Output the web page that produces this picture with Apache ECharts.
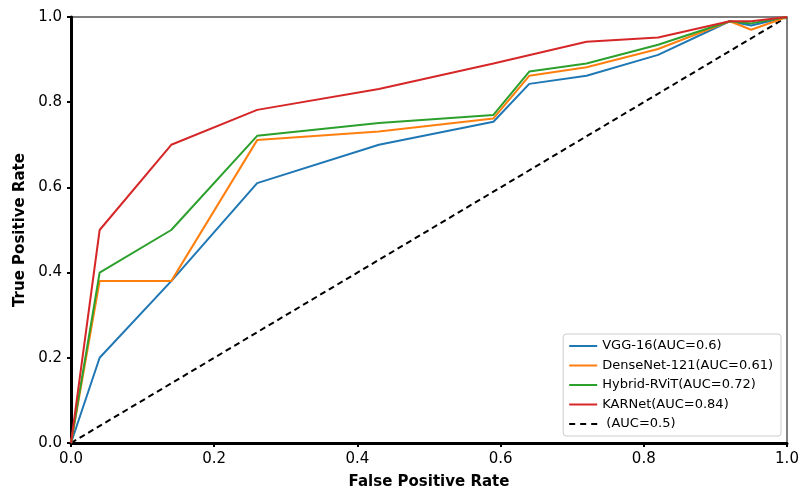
<!DOCTYPE html>
<html>
<head>
<meta charset="utf-8">
<script src="https://cdn.jsdelivr.net/npm/echarts@6/dist/echarts.min.js"></script>
<style>html,body{margin:0;padding:0;background:#fff;}#c{width:801px;height:490px;}</style>
</head>
<body>
<div id="c"></div>
<script>
const vggFpr = [0, 0.04, 0.14, 0.26, 0.43, 0.59, 0.64, 0.72, 0.82, 0.92, 0.95, 1];
const vggTpr = [0, 0.2, 0.38, 0.61, 0.70, 0.754, 0.843, 0.862, 0.911, 0.99, 0.98, 1];
const denseFpr = [0, 0.04, 0.14, 0.26, 0.43, 0.59, 0.64, 0.72, 0.82, 0.92, 0.95, 1];
const denseTpr = [0, 0.38, 0.38, 0.711, 0.731, 0.762, 0.862, 0.882, 0.925, 0.99, 0.97, 1];
const hybridFpr = [0, 0.04, 0.14, 0.26, 0.43, 0.59, 0.64, 0.72, 0.82, 0.92, 0.95, 1];
const hybridTpr = [0, 0.40, 0.50, 0.721, 0.751, 0.77, 0.872, 0.891, 0.935, 0.99, 0.985, 1];
const karFpr = [0, 0.04, 0.14, 0.26, 0.43, 0.59, 0.72, 0.82, 0.92, 0.95, 1];
const karTpr = [0, 0.5, 0.70, 0.782, 0.831, 0.891, 0.942, 0.952, 0.99, 0.99, 1];
const chanceFpr = [0, 1];
const chanceTpr = [0, 1];
const seriesNames = ['VGG-16(AUC=0.6)', 'DenseNet-121(AUC=0.61)', 'Hybrid-RViT(AUC=0.72)', 'KARNet(AUC=0.84)', ' (AUC=0.5)'];
const colors = ['#1f77b4', '#ff7f0e', '#2ca02c', '#d62728', '#000000'];

const zip = (a, b) => a.map((v, i) => [v, b[i]]);
const datasets = [zip(vggFpr, vggTpr), zip(denseFpr, denseTpr), zip(hybridFpr, hybridTpr), zip(karFpr, karTpr), zip(chanceFpr, chanceTpr)];

const solidIcon = 'path://M0,0L28,0L28,2L0,2Z';
const dashIcon = 'path://M0,0L6,0L6,2L0,2Z M11,0L17,0L17,2L11,2Z M22,0L28,0L28,2L22,2Z';

const font = 'DejaVu Sans';
const chart = echarts.init(document.getElementById('c'), null, {renderer: 'canvas'});
chart.setOption({
  animation: false,
  backgroundColor: '#fff',
  grid: {left: 71, right: 14, top: 17, bottom: 47, show: true, borderColor: '#555', borderWidth: 1.5, backgroundColor: 'transparent', outerBoundsMode: 'none', containLabel: false},
  xAxis: {
    type: 'value', min: 0, max: 1, interval: 0.2,
    name: 'False Positive Rate', nameLocation: 'middle', nameGap: 32,
    nameTextStyle: {fontFamily: font, fontWeight: 'bold', fontSize: 15, color: '#000'},
    axisLine: {show: true, lineStyle: {color: '#000', width: 3}},
    axisTick: {show: true, length: 4, lineStyle: {color: '#000', width: 2}},
    axisLabel: {fontFamily: font, fontSize: 15, color: '#000', margin: 9, formatter: v => v.toFixed(1)},
    splitLine: {show: false}
  },
  yAxis: {
    type: 'value', min: 0, max: 1, interval: 0.2,
    name: 'True Positive Rate', nameLocation: 'middle', nameGap: 42,
    nameTextStyle: {fontFamily: font, fontWeight: 'bold', fontSize: 15, color: '#000'},
    axisLine: {show: true, lineStyle: {color: '#000', width: 3}},
    axisTick: {show: true, length: 4, lineStyle: {color: '#000', width: 2}},
    axisLabel: {fontFamily: font, fontSize: 15, color: '#000', margin: 9, formatter: v => v.toFixed(1)},
    splitLine: {show: false}
  },
  legend: {
    orient: 'vertical', right: 20, bottom: 54,
    backgroundColor: '#fff', borderColor: '#ccc', borderWidth: 1, borderRadius: 3,
    padding: [4, 8, 4, 6], itemGap: 3.5, itemWidth: 28, itemHeight: 2,
    textStyle: {fontFamily: font, fontSize: 13, color: '#000', lineHeight: 16},
    data: seriesNames.map((n, i) => ({name: n, icon: i === 4 ? dashIcon : solidIcon}))
  },
  series: datasets.map((d, i) => ({
    name: seriesNames[i], type: 'line', data: d, symbol: 'none',
    color: colors[i],
    lineStyle: {color: colors[i], width: 2, type: i === 4 ? [6, 4] : 'solid'},
    z: i === 4 ? 1 : 2 + i
  }))
});
</script>
</body>
</html>
